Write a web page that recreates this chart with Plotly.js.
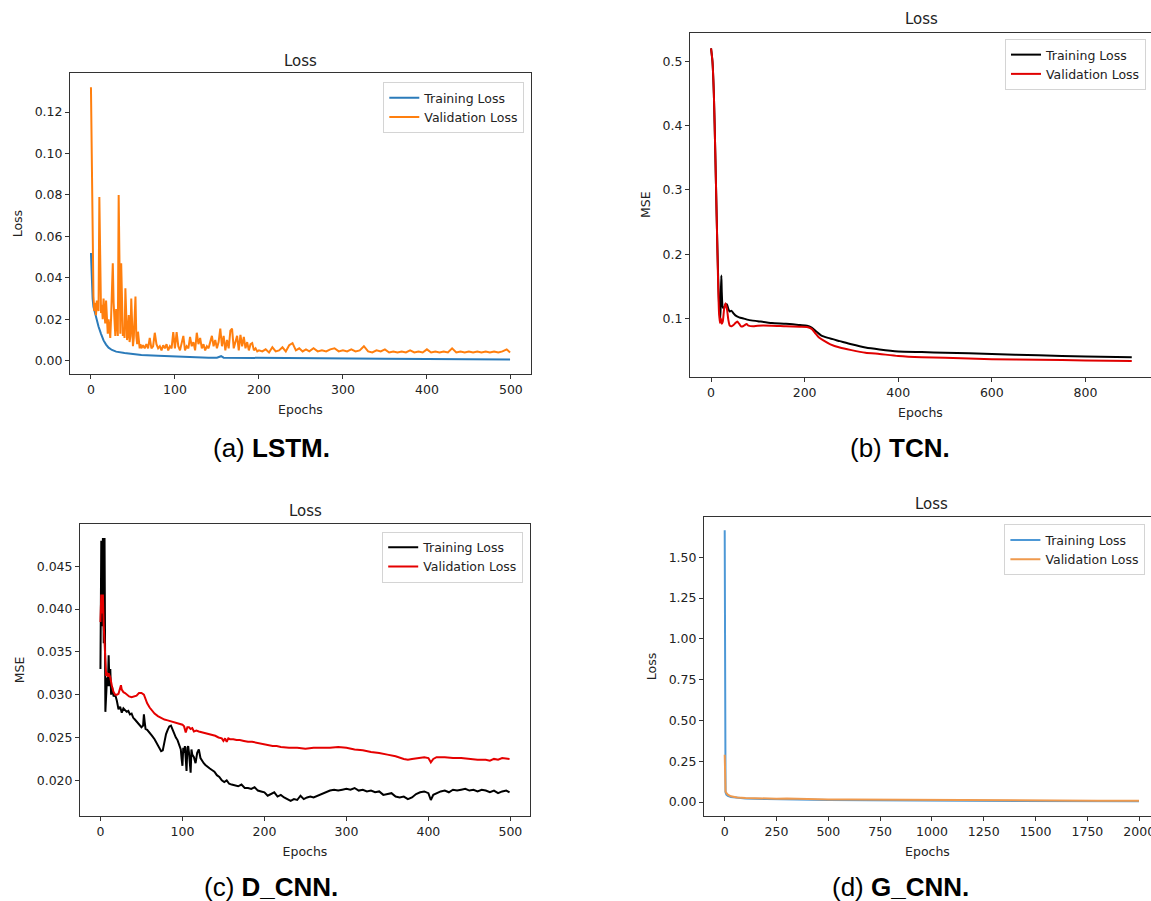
<!DOCTYPE html>
<html>
<head>
<meta charset="utf-8">
<script src="https://cdn.plot.ly/plotly-3.0.1.min.js"></script>
<style>html,body{margin:0;padding:0;background:#fff;}#chart{width:1151px;height:901px;}</style>
</head>
<body>
<div id="chart"></div>
<script>
// ---------- (a) LSTM ----------
const lstmTrainEpochs = [0,1,2,3,5,7,9,12,15,18,21,25,30,40,50,60,80,100,120,140,150,155,158,200,250,300,350,400,450,499];
const lstmTrainLoss   = [0.052,0.034,0.030,0.026,0.0225,0.019,0.0165,0.013,0.0098,0.0078,0.0063,0.0052,0.0044,0.0037,0.0032,0.0028,0.0024,0.0020,0.0018,0.0015,0.0015,0.0022,0.0015,0.0013,0.0011,0.0010,0.0009,0.0008,0.0007,0.0006];
const lstmValEpochs = [0,1,2,3,4,5,6,7,8,9,10,11,12,13,14,15,16,17,18,19,20,21,22,23,24,25,26,27,28,29,30,31,32,33,34,35,36,37,38,39,40,41,42,43,44,45,46,47,48,49,50,51,52,53,54,55,56,57,58,59,60,
62,64,66,68,70,72,74,76,78,80,82,84,86,88,90,92,94,96,98,100,102,104,106,108,110,112,114,116,118,120,122,124,126,128,130,132,134,136,138,140,142,144,146,148,150,152,154,156,158,160,162,164,166,168,170,172,174,176,178,180,182,184,186,188,190,192,194,196,198,200,
204,208,212,216,220,224,228,232,236,240,244,248,252,256,260,265,270,275,280,285,290,295,300,305,310,315,320,325,330,335,340,345,350,355,360,365,370,375,380,385,390,395,400,405,410,415,420,425,430,435,440,445,450,455,460,465,470,475,480,485,490,495,499];
const lstmValLoss = [0.132,0.100,0.050,0.031,0.024,0.028,0.022,0.029,0.027,0.024,0.079,0.029,0.023,0.027,0.020,0.030,0.022,0.018,0.029,0.016,0.013,0.020,0.014,0.011,0.021,0.035,0.047,0.028,0.014,0.012,0.025,0.016,0.012,0.080,0.022,0.013,0.047,0.020,0.012,0.016,0.011,0.035,0.018,0.010,0.013,0.022,0.009,0.012,0.030,0.014,0.007,0.011,0.018,0.031,0.012,0.008,0.014,0.010,0.006,0.008,0.006,
0.0075,0.006,0.008,0.006,0.011,0.006,0.007,0.0135,0.008,0.006,0.007,0.005,0.0075,0.006,0.008,0.005,0.007,0.006,0.0138,0.006,0.0138,0.007,0.005,0.009,0.012,0.005,0.007,0.006,0.0115,0.007,0.009,0.005,0.0135,0.008,0.011,0.006,0.008,0.005,0.007,0.006,0.0095,0.012,0.007,0.010,0.006,0.009,0.0155,0.007,0.012,0.005,0.010,0.006,0.0145,0.0155,0.006,0.009,0.012,0.005,0.0125,0.007,0.0115,0.006,0.009,0.005,0.008,0.0085,0.005,0.006,0.0045,0.005,
0.0045,0.0055,0.004,0.0065,0.0045,0.005,0.0065,0.0045,0.0075,0.0085,0.005,0.006,0.0045,0.0055,0.0045,0.006,0.0045,0.005,0.0045,0.0055,0.006,0.0045,0.005,0.0045,0.0055,0.0045,0.005,0.007,0.0045,0.004,0.005,0.0045,0.0055,0.004,0.0045,0.004,0.0045,0.004,0.005,0.004,0.0045,0.004,0.0055,0.004,0.0045,0.004,0.0045,0.004,0.006,0.004,0.0045,0.004,0.0045,0.004,0.0045,0.004,0.0045,0.004,0.0045,0.004,0.0045,0.0055,0.004];

// ---------- (b) TCN ----------
const tcnTrainEpochs = [0,3,6,9,12,15,18,20,21,22,23,25,28,31,34,37,40,44,48,52,60,70,80,100,130,160,190,205,215,225,235,250,275,300,330,360,400,450,500,600,700,800,899];
const tcnTrainMSE    = [0.52,0.50,0.45,0.36,0.26,0.17,0.11,0.10,0.14,0.167,0.14,0.118,0.116,0.122,0.122,0.115,0.111,0.112,0.108,0.105,0.102,0.100,0.098,0.096,0.093,0.092,0.090,0.089,0.086,0.080,0.074,0.070,0.065,0.060,0.055,0.052,0.049,0.048,0.047,0.045,0.043,0.041,0.040];
const tcnValEpochs = [0,3,6,9,12,15,17,19,21,23,25,28,31,34,37,40,44,48,52,56,60,64,68,72,76,80,90,100,130,160,190,205,215,222,230,240,255,275,300,330,360,400,450,500,600,700,800,899];
const tcnValMSE    = [0.52,0.50,0.45,0.36,0.26,0.16,0.11,0.093,0.10,0.092,0.095,0.115,0.124,0.115,0.098,0.089,0.088,0.090,0.093,0.0955,0.092,0.088,0.088,0.090,0.0915,0.089,0.088,0.089,0.089,0.088,0.0875,0.087,0.084,0.078,0.071,0.066,0.060,0.055,0.051,0.047,0.045,0.042,0.040,0.039,0.037,0.036,0.035,0.034];

// ---------- (c) D_CNN ----------
const dcnnTrainEpochs = [0,1,2,3,4,5,6,7,8,9,10,11,12,13,14,16,18,20,22,24,26,28,30,32,34,36,38,40,42,44,46,48,50,52,53,54,55,57,60,63,66,69,72,74,76,78,80,82,84,86,88,90,92,94,96,98,99,100,101,102,103,104,105,106,107,108,109,110,111,112,114,116,118,120,122,124,126,128,130,133,136,139,142,145,148,151,154,157,160,164,168,172,176,180,184,188,192,196,200,204,208,212,216,220,224,228,232,236,240,244,248,252,256,260,265,270,275,280,285,290,295,300,305,310,315,320,325,330,335,340,345,350,355,360,365,370,375,380,385,390,395,400,403,406,410,415,420,425,430,435,440,445,450,455,460,465,470,475,480,485,490,495,499];
const dcnnTrainMSE = [0.033,0.048,0.038,0.0483,0.036,0.0483,0.028,0.030,0.032,0.031,0.0346,0.031,0.033,0.030,0.031,0.0298,0.030,0.0293,0.0283,0.0286,0.0279,0.0284,0.0282,0.0280,0.0281,0.0277,0.0278,0.0273,0.0271,0.0269,0.0267,0.0265,0.0262,0.0264,0.0277,0.0268,0.0260,0.0259,0.0256,0.0252,0.0248,0.0243,0.0237,0.0234,0.0235,0.0246,0.0254,0.0259,0.0263,0.0264,0.0259,0.0256,0.0250,0.0247,0.0242,0.0236,0.0225,0.0217,0.0238,0.0232,0.0240,0.0220,0.0211,0.0238,0.0240,0.0232,0.0222,0.0209,0.0236,0.0230,0.0227,0.0220,0.0232,0.0236,0.0226,0.0222,0.0220,0.0218,0.0216,0.0214,0.0212,0.0210,0.0206,0.0204,0.0200,0.0198,0.0200,0.0196,0.0195,0.0194,0.0193,0.0195,0.0191,0.0191,0.0190,0.0192,0.0188,0.0187,0.0186,0.0182,0.0184,0.0186,0.0181,0.0183,0.0180,0.0178,0.0176,0.0178,0.0177,0.0182,0.0178,0.0180,0.0181,0.0180,0.0182,0.0184,0.0186,0.0188,0.0189,0.0188,0.0189,0.0190,0.0189,0.0191,0.0188,0.0189,0.0187,0.0188,0.0186,0.0187,0.0183,0.0184,0.0185,0.0181,0.0180,0.0181,0.0178,0.0180,0.0184,0.0186,0.0187,0.0185,0.0177,0.0183,0.0185,0.0187,0.0188,0.0186,0.0189,0.0188,0.0189,0.0190,0.0188,0.0189,0.0187,0.0189,0.0188,0.0186,0.0188,0.0185,0.0187,0.0188,0.0186];
const dcnnValEpochs = [0,1,2,3,4,5,6,7,8,9,10,12,14,16,18,20,22,24,25,26,28,30,32,35,38,41,44,47,50,53,55,57,60,63,66,70,74,78,82,86,90,94,98,100,102,104,106,108,110,112,114,117,120,124,128,132,136,140,144,148,150,152,154,156,158,162,166,170,175,180,185,190,195,200,205,210,215,220,230,240,250,260,270,280,290,300,310,320,330,340,350,360,370,375,380,390,395,400,403,406,410,420,430,440,450,460,470,475,480,485,490,495,499];
const dcnnValMSE = [0.0385,0.0417,0.0395,0.0417,0.0380,0.0360,0.0325,0.0322,0.0326,0.0321,0.0325,0.0320,0.0310,0.0303,0.0300,0.0300,0.0301,0.0309,0.0311,0.0306,0.0303,0.0302,0.0300,0.0298,0.0297,0.0298,0.0299,0.0302,0.0302,0.0300,0.0295,0.0290,0.0285,0.0281,0.0278,0.0275,0.0273,0.0271,0.0270,0.0269,0.0268,0.0267,0.0266,0.0265,0.0263,0.0256,0.0262,0.0262,0.0260,0.0261,0.0257,0.0258,0.0257,0.0256,0.0255,0.0254,0.0253,0.0252,0.0250,0.0249,0.0246,0.0249,0.0245,0.0249,0.0248,0.0248,0.0247,0.0247,0.0246,0.0245,0.0245,0.0244,0.0243,0.0242,0.0241,0.0240,0.0240,0.0239,0.0238,0.0238,0.0237,0.0238,0.0238,0.0238,0.0239,0.0238,0.0236,0.0235,0.0233,0.0232,0.0230,0.0228,0.0225,0.0224,0.0225,0.0226,0.0227,0.0226,0.0221,0.0225,0.0227,0.0227,0.0226,0.0226,0.0225,0.0224,0.0224,0.0223,0.0225,0.0224,0.0226,0.0225,0.0225];

// ---------- (d) G_CNN ----------
const gcnnTrainEpochs = [0,1,2,4,8,15,30,60,100,200,300,500,700,1000,1300,1600,1999];
const gcnnTrainLoss   = [1.665,0.30,0.12,0.06,0.045,0.038,0.030,0.025,0.022,0.018,0.015,0.012,0.010,0.008,0.006,0.005,0.004];
const gcnnValEpochs = [0,2,4,8,15,30,60,100,150,200,250,300,350,400,450,500,600,700,800,900,1000,1200,1400,1600,1800,1999];
const gcnnValLoss   = [0.29,0.10,0.065,0.055,0.045,0.035,0.028,0.025,0.022,0.021,0.020,0.022,0.020,0.019,0.020,0.016,0.015,0.014,0.013,0.012,0.011,0.010,0.009,0.009,0.008,0.008];

const seriesNames = ['Training Loss','Validation Loss'];
const panelTitles = ['Loss','Loss','Loss','Loss'];
const yTitles = ['Loss','MSE','MSE','Loss'];
const xTitle = 'Epochs';
const captions = ['(a) <b>LSTM.</b>','(b) <b>TCN.</b>','(c) <b>D_CNN.</b>','(d) <b>G_CNN.</b>'];

// ---------- layout helpers ----------
const W = 1151, H = 901;
const px = v => v / W;
const py = v => 1 - v / H;
const FONT = 'DejaVu Sans, Verdana, sans-serif';
const TXT = '#222';
const LINE = '#333';

function xAxis(anchor, l, r, range, dtick) {
  return {anchor:anchor, domain:[px(l), Math.min(1, px(r))], range:range, dtick:dtick, tick0:0,
    showline:true, linecolor:LINE, linewidth:1, mirror:true,
    ticks:'outside', ticklen:4, tickwidth:1, tickcolor:LINE, ticklabeloverflow:'allow',
    showgrid:false, zeroline:false,
    tickfont:{family:FONT, size:12.5, color:TXT},
    title:{text:xTitle, font:{family:FONT, size:12.5, color:TXT}, standoff:9}};
}
function yAxis(anchor, t, b, range, dtick, fmt, title, mirror) {
  return {anchor:anchor, domain:[py(b), py(t)], range:range, dtick:dtick, tick0:0, tickformat:fmt,
    showline:true, linecolor:LINE, linewidth:1, mirror:mirror,
    ticks:'outside', ticklen:4, tickwidth:1, tickcolor:LINE,
    showgrid:false, zeroline:false,
    tickfont:{family:FONT, size:12.5, color:TXT},
    title:{text:title, font:{family:FONT, size:12.5, color:TXT}, standoff:9}};
}
function legendAt(x, y, anchor) {
  return {x:px(x), y:py(y), xanchor:anchor, yanchor:'top', xref:'paper', yref:'paper',
    bgcolor:'rgba(255,255,255,0.9)', bordercolor:'#d4d4d4', borderwidth:1,
    font:{family:FONT, size:12.5, color:TXT}, tracegroupgap:0};
}

const traces = [
  {x:lstmTrainEpochs, y:lstmTrainLoss, name:seriesNames[0], xaxis:'x', yaxis:'y', legend:'legend', mode:'lines', line:{color:'#2b7bba', width:2}},
  {x:lstmValEpochs, y:lstmValLoss, name:seriesNames[1], xaxis:'x', yaxis:'y', legend:'legend', mode:'lines', line:{color:'#ff7f0e', width:2}},
  {x:tcnTrainEpochs, y:tcnTrainMSE, name:seriesNames[0], xaxis:'x2', yaxis:'y2', legend:'legend2', mode:'lines', line:{color:'#000000', width:2, shape:'spline', smoothing:0.6}},
  {x:tcnValEpochs, y:tcnValMSE, name:seriesNames[1], xaxis:'x2', yaxis:'y2', legend:'legend2', mode:'lines', line:{color:'#e00000', width:2, shape:'spline', smoothing:0.6}},
  {x:dcnnTrainEpochs, y:dcnnTrainMSE, name:seriesNames[0], xaxis:'x3', yaxis:'y3', legend:'legend3', mode:'lines', line:{color:'#000000', width:2}},
  {x:dcnnValEpochs, y:dcnnValMSE, name:seriesNames[1], xaxis:'x3', yaxis:'y3', legend:'legend3', mode:'lines', line:{color:'#e50000', width:2}},
  {x:gcnnTrainEpochs, y:gcnnTrainLoss, name:seriesNames[0], xaxis:'x4', yaxis:'y4', legend:'legend4', mode:'lines', line:{color:'#4d98d6', width:2}},
  {x:gcnnValEpochs, y:gcnnValLoss, name:seriesNames[1], xaxis:'x4', yaxis:'y4', legend:'legend4', mode:'lines', line:{color:'#ef9a4e', width:2}}
];

const titlePos = [[300.5,61],[921,19],[305,511],[931.5,504]];
const captionPos = [[271,448],[900,448],[271,887],[900,887]];
const annotations = [];
panelTitles.forEach((t,i)=>annotations.push({text:t, x:px(titlePos[i][0]), y:py(titlePos[i][1]), xref:'paper', yref:'paper', xanchor:'center', yanchor:'middle', showarrow:false, font:{family:FONT, size:15, color:TXT}}));
captions.forEach((t,i)=>annotations.push({text:t, x:px(captionPos[i][0]), y:py(captionPos[i][1]), xref:'paper', yref:'paper', xanchor:'center', yanchor:'middle', showarrow:false, font:{family:'Liberation Sans, Arial, sans-serif', size:26, color:'#000'}}));

const layout = {
  width:W, height:H, margin:{l:0,r:0,t:0,b:0},
  paper_bgcolor:'#ffffff', plot_bgcolor:'#ffffff',
  showlegend:true,
  xaxis:  xAxis('y', 70, 531, [-24.95, 523.95], 100),
  yaxis:  yAxis('x', 73.3, 374, [-0.0064, 0.1387], 0.02, '.2f', yTitles[0], true),
  xaxis2: xAxis('y2', 690, 1151, [-44.95, 940.1], 200),
  yaxis2: yAxis('x2', 32.7, 376.7, [0.0097, 0.5443], 0.1, '.1f', yTitles[1], false),
  xaxis3: xAxis('y3', 80, 530, [-24.95, 523.95], 100),
  yaxis3: yAxis('x3', 523.7, 816, [0.01583, 0.04998], 0.005, '.3f', yTitles[2], true),
  xaxis4: xAxis('y4', 704, 1151, [-99.95, 2057], 250),
  yaxis4: yAxis('x4', 517.3, 815.7, [-0.084, 1.745], 0.25, '.2f', yTitles[3], false),
  legend:  legendAt(524.3, 82, 'right'),
  legend2: legendAt(1146, 39, 'right'),
  legend3: legendAt(523.2, 531.7, 'right'),
  legend4: legendAt(1004.4, 524.3, 'left'),
  annotations: annotations
};

Plotly.newPlot('chart', traces, layout, {staticPlot:true, displayModeBar:false});
</script>
</body>
</html>
